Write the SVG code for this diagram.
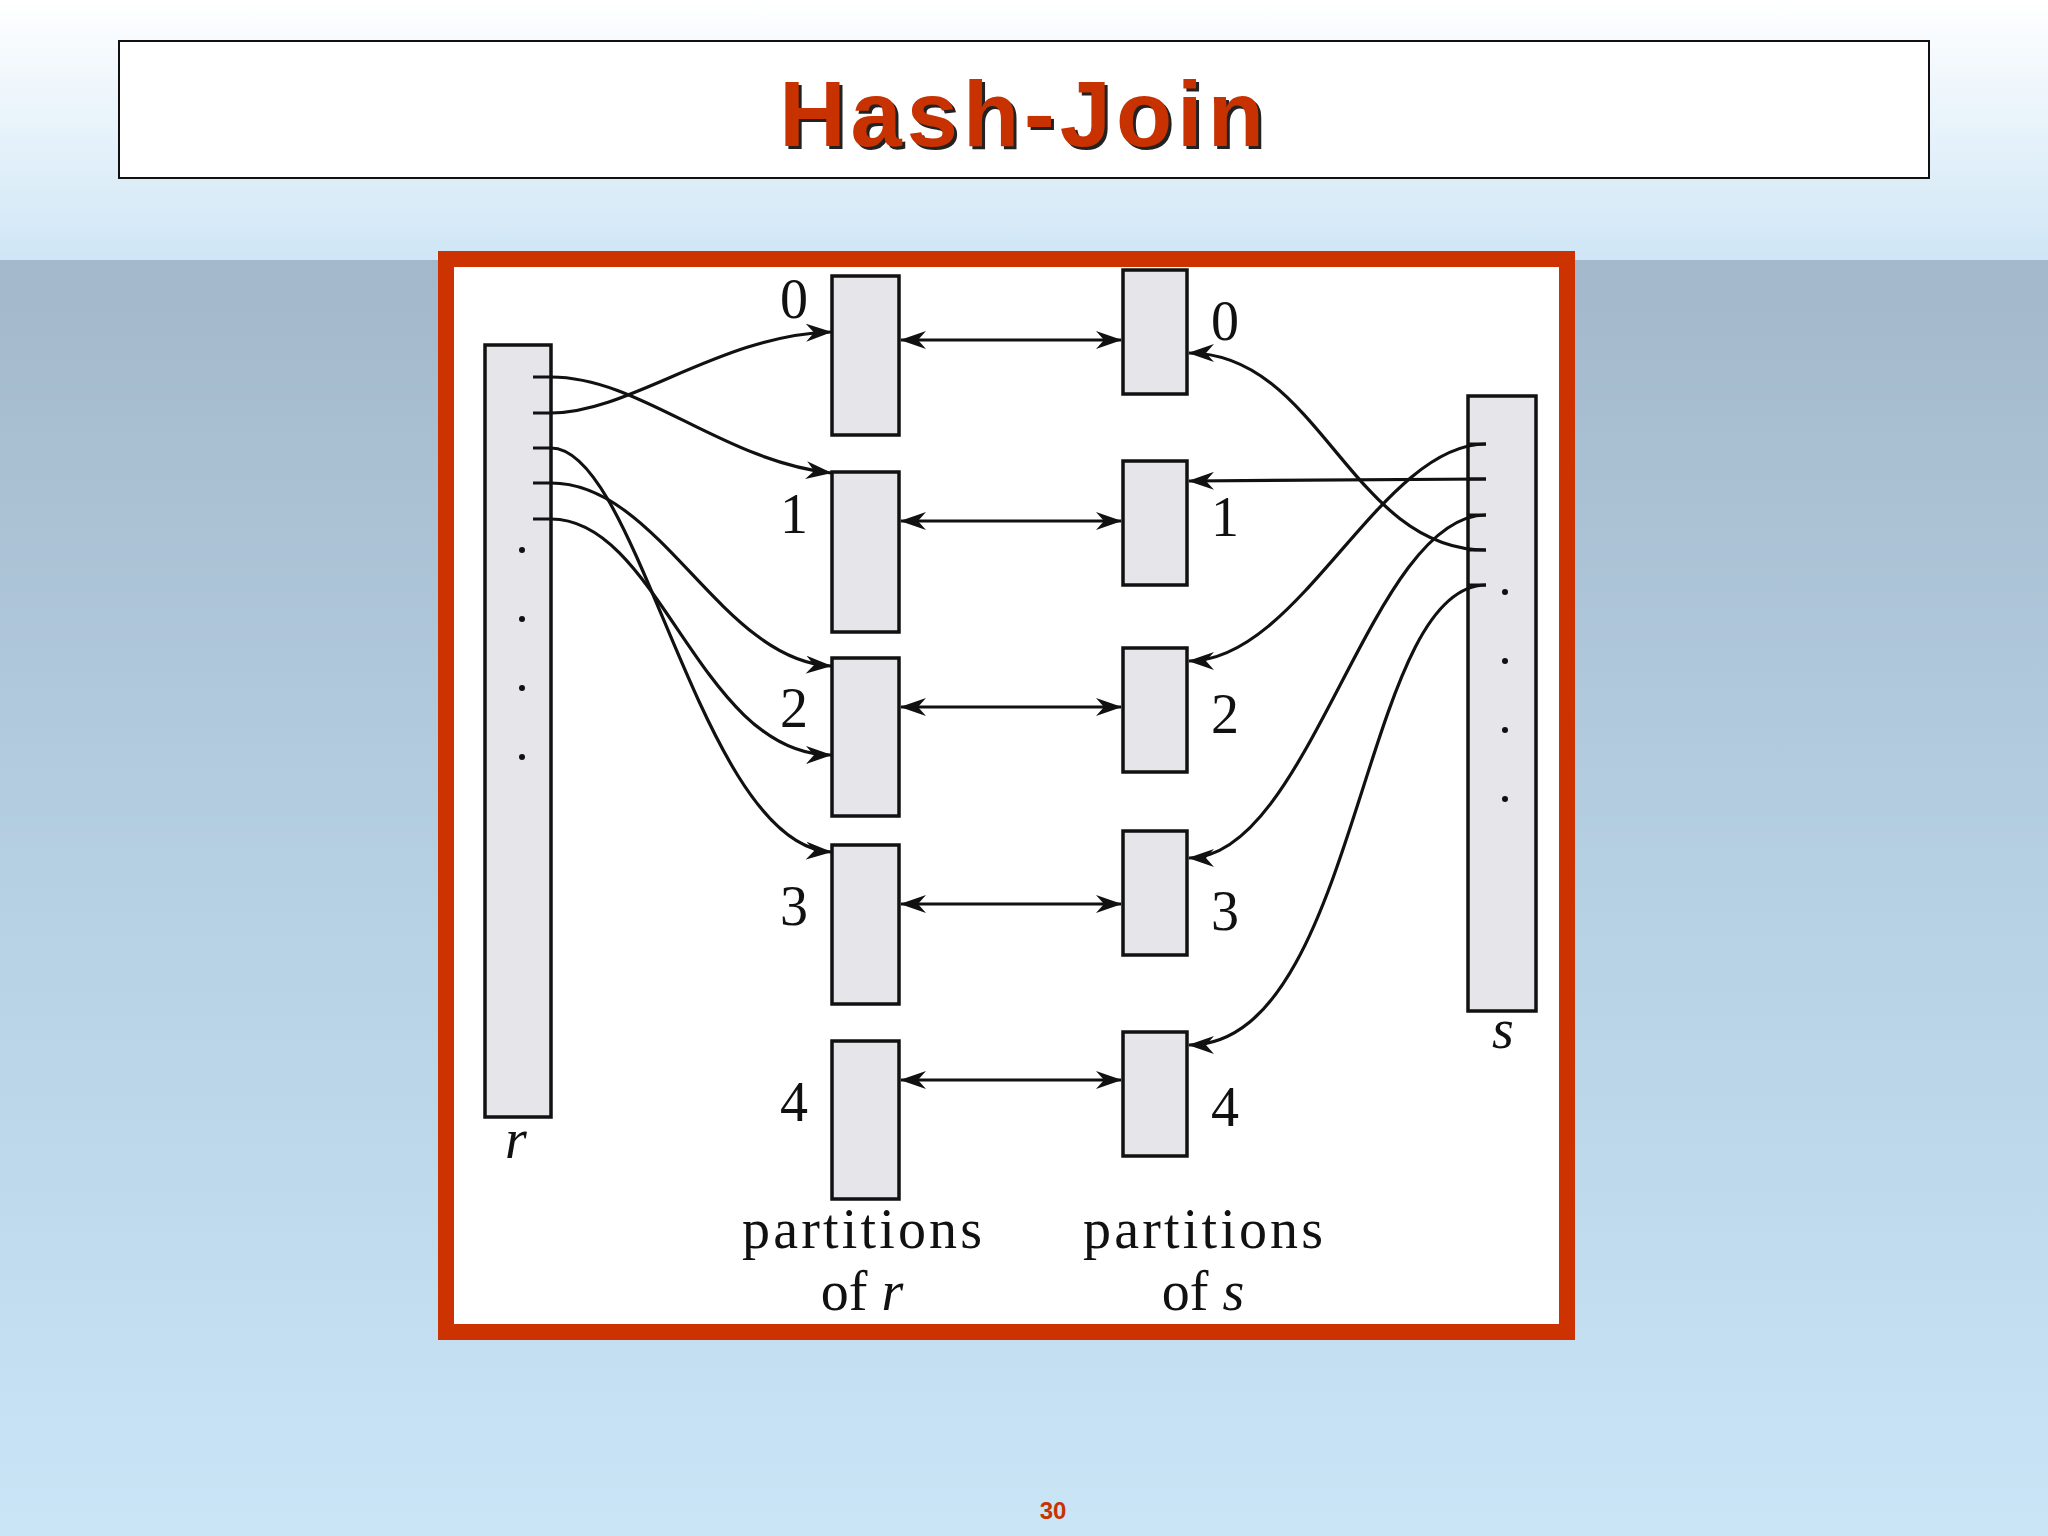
<svg xmlns="http://www.w3.org/2000/svg" width="2048" height="1536" viewBox="0 0 2048 1536">
<defs>
<linearGradient id="top" x1="0" y1="0" x2="0" y2="1"><stop offset="0" stop-color="#ffffff"/><stop offset="1" stop-color="#cfe6f6"/></linearGradient>
<linearGradient id="bot" x1="0" y1="0" x2="0" y2="1"><stop offset="0" stop-color="#a3b8ca"/><stop offset="0.5" stop-color="#b6d0e4"/><stop offset="1" stop-color="#c9e5f6"/></linearGradient>
<marker id="ah" viewBox="0 0 26 18" refX="25" refY="9" markerWidth="26" markerHeight="18" markerUnits="userSpaceOnUse" orient="auto-start-reverse"><path d="M0,0 L26,9 L0,18 L8,9 Z" fill="#111"/></marker>
</defs>
<style>
.box{fill:#e6e5ea;stroke:#111;stroke-width:3.5}
.c{fill:none;stroke:#111;stroke-width:3.2}
.n{font-family:"Liberation Serif",serif;font-size:56px;fill:#111;text-anchor:middle}
.l{font-family:"Liberation Serif",serif;font-size:56px;fill:#111;text-anchor:middle}
</style>
<rect width="2048" height="260" fill="url(#top)"/>
<rect y="260" width="2048" height="1276" fill="url(#bot)"/>
<g id="title">
<rect x="119" y="41" width="1810" height="137" fill="#fff" stroke="#111" stroke-width="2"/>
<text x="1027" y="149" font-family="Liberation Sans,Arial,sans-serif" font-weight="bold" font-size="92" letter-spacing="5" fill="#222" text-anchor="middle">Hash-Join</text>
<text x="1024" y="146" font-family="Liberation Sans,Arial,sans-serif" font-weight="bold" font-size="92" letter-spacing="5" fill="#c83200" text-anchor="middle">Hash-Join</text>
</g>
<g id="frame"><rect x="446" y="259" width="1121" height="1073" fill="#fff" stroke="#cc3300" stroke-width="16"/></g>
<g id="r"><rect class="box" x="485" y="345" width="66" height="772"/>
<g stroke="#111" stroke-width="3"><line x1="533" y1="377" x2="551" y2="377"/><line x1="533" y1="413" x2="551" y2="413"/><line x1="533" y1="448" x2="551" y2="448"/><line x1="533" y1="483" x2="551" y2="483"/><line x1="533" y1="519" x2="551" y2="519"/></g>
<g fill="#111"><circle cx="522" cy="550" r="3"/><circle cx="522" cy="619" r="3"/><circle cx="522" cy="688" r="3"/><circle cx="522" cy="757" r="3"/></g>
<text class="l" x="516" y="1158" font-style="italic">r</text></g>
<g id="s"><rect class="box" x="1468" y="396" width="68" height="615"/>
<g stroke="#111" stroke-width="3"><line x1="1468" y1="444" x2="1486" y2="444"/><line x1="1468" y1="479" x2="1486" y2="479"/><line x1="1468" y1="515" x2="1486" y2="515"/><line x1="1468" y1="550" x2="1486" y2="550"/><line x1="1468" y1="585" x2="1486" y2="585"/></g>
<g fill="#111"><circle cx="1505" cy="592" r="3"/><circle cx="1505" cy="661" r="3"/><circle cx="1505" cy="730" r="3"/><circle cx="1505" cy="799" r="3"/></g>
<text class="l" x="1503" y="1048" font-style="italic">s</text></g>
<g id="pr">
<rect class="box" x="832" y="276" width="67" height="159"/><rect class="box" x="832" y="472" width="67" height="160"/><rect class="box" x="832" y="658" width="67" height="158"/><rect class="box" x="832" y="845" width="67" height="159"/><rect class="box" x="832" y="1041" width="67" height="158"/>
<text class="n" x="794" y="318">0</text><text class="n" x="794" y="533">1</text><text class="n" x="794" y="727">2</text><text class="n" x="794" y="925">3</text><text class="n" x="794" y="1121">4</text>
<text class="l" x="862" y="1248" textLength="240">partitions</text><text class="l" x="862" y="1310">of <tspan font-style="italic">r</tspan></text>
</g>
<g id="ps">
<rect class="box" x="1123" y="270" width="64" height="124"/><rect class="box" x="1123" y="461" width="64" height="124"/><rect class="box" x="1123" y="648" width="64" height="124"/><rect class="box" x="1123" y="831" width="64" height="124"/><rect class="box" x="1123" y="1032" width="64" height="124"/>
<text class="n" x="1225" y="340">0</text><text class="n" x="1225" y="536">1</text><text class="n" x="1225" y="733">2</text><text class="n" x="1225" y="930">3</text><text class="n" x="1225" y="1126">4</text>
<text class="l" x="1203" y="1248" textLength="240">partitions</text><text class="l" x="1203" y="1310">of <tspan font-style="italic">s</tspan></text>
</g>
<g id="connectors">
<path class="c" marker-start="url(#ah)" marker-end="url(#ah)" d="M901,340 H1121"/>
<path class="c" marker-start="url(#ah)" marker-end="url(#ah)" d="M901,521 H1121"/>
<path class="c" marker-start="url(#ah)" marker-end="url(#ah)" d="M901,707 H1121"/>
<path class="c" marker-start="url(#ah)" marker-end="url(#ah)" d="M901,904 H1121"/>
<path class="c" marker-start="url(#ah)" marker-end="url(#ah)" d="M901,1080 H1121"/>
<path class="c" marker-end="url(#ah)" d="M551,377 C640,377 720,460 831,473"/>
<path class="c" marker-end="url(#ah)" d="M551,413 C630,413 720,335 831,332"/>
<path class="c" marker-end="url(#ah)" d="M551,448 C640,448 700,845 831,852"/>
<path class="c" marker-end="url(#ah)" d="M551,483 C660,483 720,660 831,666"/>
<path class="c" marker-end="url(#ah)" d="M551,519 C660,519 700,755 831,755"/>
<path class="c" marker-end="url(#ah)" d="M1486,444 C1380,444 1300,661 1189,661"/>
<path class="c" marker-end="url(#ah)" d="M1486,479 L1189,481"/>
<path class="c" marker-end="url(#ah)" d="M1486,515 C1370,515 1310,858 1189,858"/>
<path class="c" marker-end="url(#ah)" d="M1486,550 C1350,550 1320,353 1189,353"/>
<path class="c" marker-end="url(#ah)" d="M1486,585 C1360,585 1360,1045 1189,1045"/>
</g>
<text x="1053" y="1519" font-family="Liberation Sans,Arial,sans-serif" font-weight="bold" font-size="24" fill="#c83200" text-anchor="middle">30</text>
</svg>
